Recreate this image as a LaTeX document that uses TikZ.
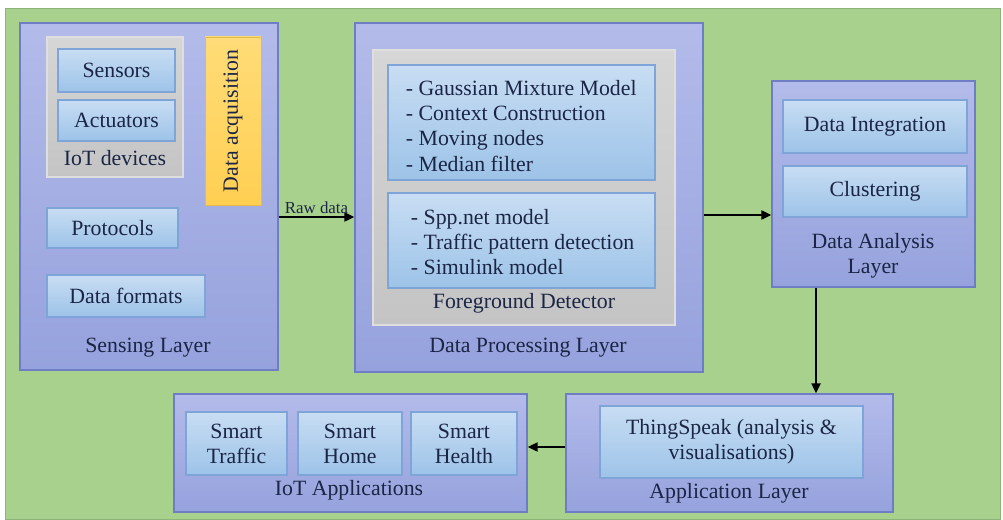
\documentclass[tikz,border=0pt]{standalone}
\usepackage{xcolor}
\usepackage{fontspec}
\setmainfont{Liberation Serif}
\usepackage{tikz}
\usetikzlibrary{arrows.meta,positioning,fit}

\definecolor{bggreen}{HTML}{A9D18E}
\definecolor{bgline}{HTML}{8DB57A}
\definecolor{layertop}{HTML}{B3BBEA}
\definecolor{layerbot}{HTML}{96A2DD}
\definecolor{layerline}{HTML}{6E7DC4}
\definecolor{itemtop}{HTML}{C8DDF3}
\definecolor{itembot}{HTML}{9DC3E8}
\definecolor{itemline}{HTML}{7FA5D8}
\definecolor{grouptop}{HTML}{D6D6D6}
\definecolor{groupbot}{HTML}{C4C4C4}
\definecolor{acqtop}{HTML}{FFDC78}
\definecolor{acqbot}{HTML}{FFCF52}
\definecolor{txtcol}{HTML}{1B2545}

\newcommand\boxfont{\fontsize{15.5}{17.8}\selectfont}
\newcommand\rawfont{\fontsize{12}{14}\selectfont}

\tikzset{
  lbl/.style={text=txtcol, font=\boxfont, align=center},
  layer/.style={draw=layerline, line width=1.1pt, top color=layertop, bottom color=layerbot, inner sep=0pt},
  group/.style={draw=grouptop!80!white, line width=0.8pt, top color=grouptop, bottom color=groupbot, inner sep=0pt},
  item/.style={draw=itemline, line width=0.8pt, top color=itemtop, bottom color=itembot, inner sep=0pt},
  acq/.style={draw=acqbot!90!black, line width=0.6pt, top color=acqtop, bottom color=acqbot, inner sep=0pt},
  flow/.style={->, line width=1.1pt, black}
}

\begin{document}
\begin{tikzpicture}[x=0.025cm, y=-0.025cm, >={Triangle[length=7pt,width=6.5pt]}]
  % canvas
  \useasboundingbox (0,0) rectangle (1003,519);
  \fill[white] (0,0) rectangle (1003,519);
  \draw[bgline, fill=bggreen] (5,8) rectangle (1000,519);

  % Sensing layer
  \node[layer, fit={(20,23) (278,370)}] (sensing) {};
  \node[group, fit={(47,37) (183,177)}] (devices) {};
  \node[item, fit={(58,49) (175,92)}] (sensors) {};
  \node[lbl] at (sensors) {Sensors};
  \node[item, fit={(58,100) (175,141)}] (actuators) {};
  \node[lbl] at (actuators) {Actuators};
  \node[lbl] at (115,158) {IoT devices};
  \node[acq, fit={(205,37) (261,205)}] (acquisition) {};
  \node[lbl, rotate=90] at (acquisition) {Data acquisition};
  \node[item, fit={(47,208) (178,248)}] (protocols) {};
  \node[lbl] at (protocols) {Protocols};
  \node[item, fit={(47,275) (205,317)}] (formats) {};
  \node[lbl] at (formats) {Data formats};
  \node[lbl] at (148,348) {Sensing Layer};

  % Data processing layer
  \node[layer, fit={(355,23) (703,372)}] (processing) {};
  \node[group, fit={(373,50) (675,325)}] (detector) {};
  \node[item, fit={(388,65) (655,180)}] (bgmodel) {};
  \node[lbl, align=left, anchor=west] at (401,126)
    {- Gaussian Mixture Model\\- Context Construction\\- Moving nodes\\- Median filter};
  \node[item, fit={(388,193) (655,288)}] (fgmodel) {};
  \node[lbl, align=left, anchor=west] at (406,242)
    {- Spp.net model\\- Traffic pattern detection\\- Simulink model};
  \node[lbl] at (524,303) {Foreground Detector};
  \node[lbl] at (528,348) {Data Processing Layer};

  % Data analysis layer
  \node[layer, fit={(772,81) (975,287)}] (analysis) {};
  \node[item, fit={(783,100) (967,153)}] (integration) {};
  \node[lbl] at (integration) {Data Integration};
  \node[item, fit={(783,166) (967,217)}] (clustering) {};
  \node[lbl] at (clustering) {Clustering};
  \node[lbl] at (873,256) {Data Analysis\\Layer};

  % Application layer
  \node[layer, fit={(566,394) (893,512)}] (applayer) {};
  \node[item, fit={(600,406) (863,478)}] (thingspeak) {};
  \node[lbl] at (thingspeak) {ThingSpeak (analysis \&\\visualisations)};
  \node[lbl] at (729,493) {Application Layer};

  % IoT applications
  \node[layer, fit={(174,394) (527,512)}] (iotapps) {};
  \node[item, fit={(186,412) (287,475)}] (traffic) {};
  \node[lbl] at (traffic) {Smart\\Traffic};
  \node[item, fit={(298,412) (402,475)}] (home) {};
  \node[lbl] at (home) {Smart\\Home};
  \node[item, fit={(411,412) (517,475)}] (health) {};
  \node[lbl] at (health) {Smart\\Health};
  \node[lbl] at (349,490) {IoT Applications};

  % connectors
  \coordinate (rawlevel) at (0,217);
  \coordinate (outlevel) at (0,215);
  \coordinate (drop) at (816,0);
  \coordinate (applevel) at (0,447);
  \draw[flow] (sensing.east |- rawlevel) -- node[above, text=txtcol, font=\rawfont, inner sep=2pt] {Raw data} (processing.west |- rawlevel);
  \draw[flow] (processing.east |- outlevel) -- (analysis.west |- outlevel);
  \draw[flow] (analysis.south -| drop) -- (applayer.north -| drop);
  \draw[flow] (applayer.west |- applevel) -- (iotapps.east |- applevel);
\end{tikzpicture}
\end{document}
